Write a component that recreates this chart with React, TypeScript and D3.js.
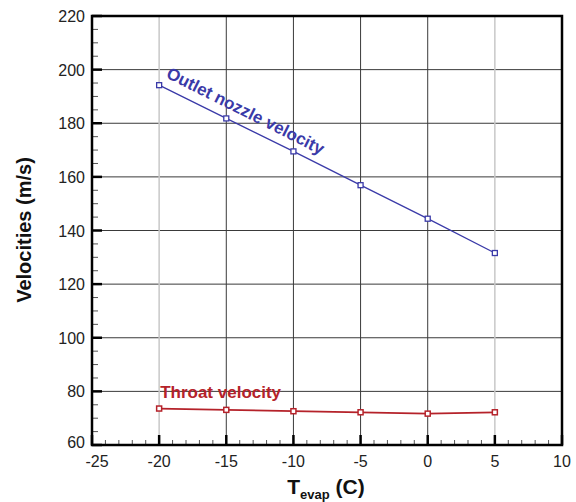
import React from "react";
import * as d3 from "d3";

const tevap = [-20, -15, -10, -5, 0, 5];
const outletVelocity = [194.2, 181.8, 169.5, 156.9, 144.4, 131.6];
const throatVelocity = [73.6, 73.1, 72.6, 72.2, 71.7, 72.2];
const xTicks = [-25, -20, -15, -10, -5, 0, 5, 10];
const yTicks = [60, 80, 100, 120, 140, 160, 180, 200, 220];
const lightGridX = [-20, 5];
const darkGridX = [-15, -10, -5, 0];

const W = 576, H = 502;
const m = { left: 92, right: 562, top: 16, bottom: 445 };

export default function App() {
  const x = d3.scaleLinear().domain([-25, 10]).range([m.left, m.right]);
  const y = d3.scaleLinear().domain([60, 220]).range([m.bottom, m.top]);
  const line = d3.line<number>().x((_, i) => x(tevap[i])).y((d) => y(d));
  const xMinor = d3.range(-25, 10.001, 1).filter((v) => v % 5 !== 0);
  const yMinor = d3.range(60, 220.001, 5).filter((v) => v % 20 !== 0);
  const blue = "#3a3aa8";
  const red = "#b5222a";
  const font = "'Liberation Sans', Arial, sans-serif";
  const x0 = x(-20), y0 = y(outletVelocity[0]);
  const x1 = x(5), y1 = y(outletVelocity[5]);
  const ang = (Math.atan2(y1 - y0, x1 - x0) * 180) / Math.PI;
  return (
    <svg width={W} height={H} style={{ position: "absolute", left: 0, top: 0, background: "#fff" }} fontFamily={font}>
      <rect x={0} y={0} width={W} height={H} fill="#fff" />
      {/* grid */}
      {yTicks.filter((v) => v > 60 && v < 220).map((v) => (
        <line key={"gy" + v} x1={m.left} x2={m.right} y1={y(v)} y2={y(v)} stroke="#3a3a3a" strokeWidth={1} />
      ))}
      {darkGridX.map((v) => (
        <line key={"gx" + v} x1={x(v)} x2={x(v)} y1={m.top} y2={m.bottom} stroke="#3a3a3a" strokeWidth={1} />
      ))}
      {lightGridX.map((v) => (
        <line key={"gl" + v} x1={x(v)} x2={x(v)} y1={m.top} y2={m.bottom} stroke="#c8c8c8" strokeWidth={1.5} />
      ))}
      {/* minor ticks */}
      {xMinor.map((v) => (
        <line key={"xm" + v} x1={x(v)} x2={x(v)} y1={m.bottom} y2={m.bottom - 5} stroke="#555" strokeWidth={1} />
      ))}
      {yMinor.map((v) => (
        <line key={"ym" + v} x1={m.left} x2={m.left + 6} y1={y(v)} y2={y(v)} stroke="#555" strokeWidth={1} />
      ))}
      {/* major ticks */}
      {xTicks.map((v) => (
        <line key={"xt" + v} x1={x(v)} x2={x(v)} y1={m.bottom} y2={m.bottom - 10} stroke="#000" strokeWidth={2.5} />
      ))}
      {yTicks.map((v) => (
        <line key={"yt" + v} x1={m.left} x2={m.left + 10} y1={y(v)} y2={y(v)} stroke="#000" strokeWidth={2.5} />
      ))}
      {/* frame */}
      <rect x={m.left} y={m.top} width={m.right - m.left} height={m.bottom - m.top} fill="none" stroke="#000" strokeWidth={2.5} />
      {/* tick labels */}
      {xTicks.map((v) => (
        <text key={"xl" + v} x={x(v) + (v === -25 ? 5 : 0)} y={467} textAnchor="middle" fontSize={16} fill="#222">
          {v}
        </text>
      ))}
      {yTicks.map((v) => (
        <text key={"yl" + v} x={85} y={y(v) + (v === 60 ? 3 : 6)} textAnchor="end" fontSize={16} fill="#222">
          {v}
        </text>
      ))}
      {/* series */}
      <path d={line(outletVelocity) || ""} fill="none" stroke={blue} strokeWidth={1.3} />
      {outletVelocity.map((v, i) => (
        <rect key={"om" + i} x={x(tevap[i]) - 2.5} y={y(v) - 2.5} width={5} height={5} fill="#fff" stroke={blue} strokeWidth={1.3} />
      ))}
      <path d={line(throatVelocity) || ""} fill="none" stroke={red} strokeWidth={1.8} />
      {throatVelocity.map((v, i) => (
        <rect key={"tm" + i} x={x(tevap[i]) - 2.5} y={y(v) - 2.5} width={5} height={5} fill="#fff" stroke={red} strokeWidth={1.5} />
      ))}
      {/* annotations */}
      <text x={0} y={0} transform={`translate(${x0 + 6},${y0 - 8}) rotate(${ang})`} fontSize={17} fontWeight="bold" fill={blue}>
        Outlet nozzle velocity
      </text>
      <text x={x(-20) + 1} y={398} fontSize={17} fontWeight="bold" fill={red}>
        Throat velocity
      </text>
      {/* axis titles */}
      <text transform={`translate(31,${230}) rotate(-90)`} textAnchor="middle" fontSize={20} fontWeight="bold" fill="#111">
        Velocities (m/s)
      </text>
      <text x={326} y={494} textAnchor="middle" fontSize={21} fontWeight="bold" fill="#111">
        T<tspan fontSize={13} dy={5}>evap</tspan><tspan dy={-5}> (C)</tspan>
      </text>
    </svg>
  );
}
